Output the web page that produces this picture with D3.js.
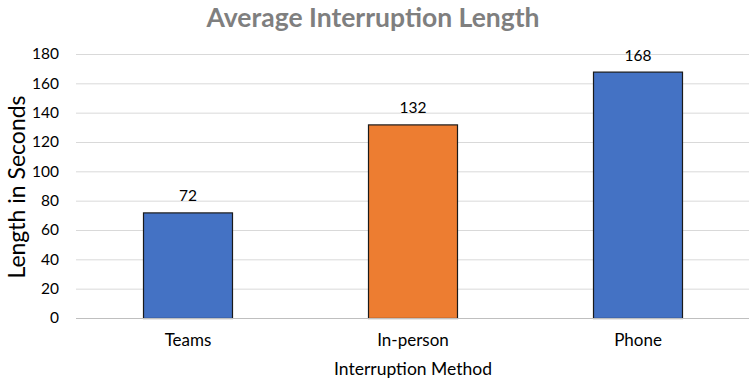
<!DOCTYPE html>
<html><head><meta charset="utf-8">
<script src="https://cdn.jsdelivr.net/npm/d3@7"></script>
<style>body{margin:0;background:#fff}svg{display:block}</style>
</head><body>
<svg id="c" width="749" height="381"></svg>
<script>
const categories = ["Teams", "In-person", "Phone"];
const values = [72, 132, 168];
const barColors = ["#4472C4", "#ED7D31", "#4472C4"];
const yTicks = [0, 20, 40, 60, 80, 100, 120, 140, 160, 180];
const title = "Average Interruption Length";
const xTitle = "Interruption Method";
const yTitle = "Length in Seconds";

const font = "Lato, 'Open Sans', sans-serif";
const svg = d3.select("#c");
const x = d3.scaleBand().domain(categories).range([75.5, 750.5]).paddingInner(0.6).paddingOuter(0.3);
const y = d3.scaleLinear().domain([0, 180]).range([318, 54]);

// gridlines
svg.append("g").selectAll("line").data(yTicks.filter(d => d > 0)).join("line")
  .attr("x1", 76).attr("x2", 749).attr("y1", d => y(d) + 0.5).attr("y2", d => y(d) + 0.5)
  .attr("stroke", "#D9D9D9").attr("stroke-width", 1);

// y axis labels
const ya = svg.append("g").attr("transform", "translate(76,0)")
  .call(d3.axisLeft(y).tickValues(yTicks).tickSize(0).tickPadding(17));
ya.select(".domain").remove();
ya.selectAll("text").attr("font-family", font).attr("font-size", 15.5).attr("fill", "#000");

// bars
svg.append("g").selectAll("rect").data(values).join("rect")
  .attr("x", (d, i) => x(categories[i]) + 0.5)
  .attr("y", d => y(d) + 0.5)
  .attr("width", x.bandwidth() - 1)
  .attr("height", d => y(0) - y(d))
  .attr("fill", (d, i) => barColors[i])
  .attr("stroke", "#1a1a1a").attr("stroke-width", 1.2);

// x axis
const xa = svg.append("g").attr("transform", "translate(0,318)")
  .call(d3.axisBottom(x).tickSize(0).tickPadding(16));
xa.select(".domain").remove();
xa.selectAll("text").attr("font-family", font).attr("font-size", 17).attr("fill", "#000");
svg.append("line").attr("x1", 76).attr("x2", 749).attr("y1", 318.5).attr("y2", 318.5)
  .attr("stroke", "#BFBFBF").attr("stroke-width", 1.2);

// value labels
svg.append("g").selectAll("text").data(values).join("text")
  .attr("x", (d, i) => x(categories[i]) + x.bandwidth() / 2)
  .attr("y", d => y(d) - 11)
  .attr("text-anchor", "middle")
  .attr("font-family", font).attr("font-size", 15.5).attr("fill", "#000")
  .text(d => d);

// titles
svg.append("text").attr("x", 373).attr("y", 27).attr("text-anchor", "middle")
  .attr("font-family", font).attr("font-weight", "bold").attr("font-size", 26.5).attr("fill", "#7F7F7F")
  .text(title);
svg.append("text").attr("x", 413).attr("y", 375).attr("text-anchor", "middle")
  .attr("font-family", font).attr("font-size", 17.5).attr("fill", "#000")
  .text(xTitle);
svg.append("text").attr("transform", "translate(25,187) rotate(-90)").attr("text-anchor", "middle")
  .attr("font-family", font).attr("font-size", 23).attr("fill", "#000")
  .text(yTitle);
</script>
</body></html>
